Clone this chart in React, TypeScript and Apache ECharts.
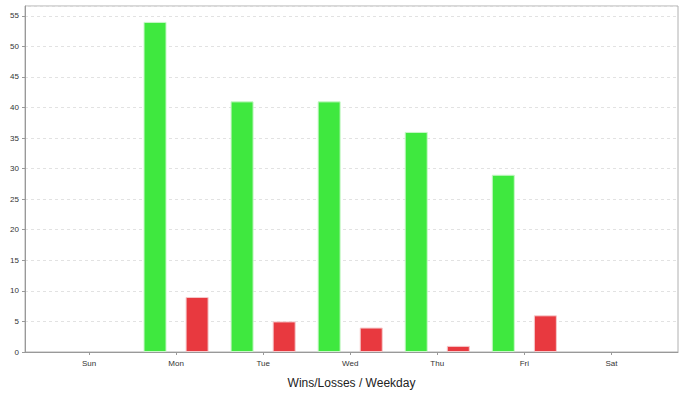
import React, { useEffect, useRef } from "react";
import * as echarts from "echarts";

const days = ["Sun", "Mon", "Tue", "Wed", "Thu", "Fri", "Sat"];
const wins = [null, 54, 41, 41, 36, 29, null];
const losses = [null, 9, 5, 4, 1, 6, null];
const yTicks = [0, 5, 10, 15, 20, 25, 30, 35, 40, 45, 50, 55];
const axisTitle = "Wins/Losses / Weekday";

export default function App() {
  const ref = useRef<HTMLDivElement>(null);
  useEffect(() => {
    if (!ref.current) return;
    const chart = echarts.init(ref.current, null, { renderer: "svg" });
    const idx = days.map((_, i) => i);
    chart.setOption({
      animation: false,
      backgroundColor: "#ffffff",
      grid: {
        left: 25,
        right: 8,
        top: 6,
        bottom: 44,
        show: true,
        borderColor: "#b0b0b0",
        borderWidth: 1,
        backgroundColor: "transparent",
      },
      xAxis: {
        type: "value",
        min: -0.735,
        max: 6.765,
        name: axisTitle,
        nameLocation: "middle",
        nameGap: 25,
        nameTextStyle: { fontSize: 12, color: "#222", fontFamily: "Liberation Sans, Arial, sans-serif" },
        axisLine: { show: true, onZero: false, lineStyle: { color: "#999" } },
        axisTick: { show: true, length: 3, customValues: idx, lineStyle: { color: "#999" } },
        axisLabel: {
          customValues: idx,
          formatter: (v: number) => days[Math.round(v)] ?? "",
          fontSize: 8,
          color: "#333",
          margin: 7,
          fontFamily: "Liberation Sans, Arial, sans-serif",
        },
        splitLine: { show: false },
      },
      yAxis: {
        type: "value",
        min: 0,
        max: 56.6,
        interval: 5,
        axisLine: { show: true, onZero: false, lineStyle: { color: "#999" } },
        axisTick: { show: true, length: 3, lineStyle: { color: "#999" } },
        axisLabel: {
          fontSize: 8,
          color: "#333",
          margin: 6,
          showMaxLabel: false,
          formatter: (v: number) => (yTicks.includes(v) ? String(v) : ""),
          fontFamily: "Liberation Sans, Arial, sans-serif",
        },
        splitLine: { show: true, lineStyle: { color: "#e2e2e2", type: [3, 3] } },
      },
      series: [
        {
          type: "bar",
          name: "Wins",
          data: wins.map((v, i) => [i, v]),
          barWidth: 23,
          barGap: "83%",
          itemStyle: { color: "#3fe83f", borderColor: "#c9f7c9", borderWidth: 1 },
        },
        {
          type: "bar",
          name: "Losses",
          data: losses.map((v, i) => [i, v]),
          barWidth: 23,
          barGap: "83%",
          itemStyle: { color: "#e8393f", borderColor: "#f5c9cb", borderWidth: 1 },
        },
      ],
    });
    return () => chart.dispose();
  }, []);
  return <div ref={ref} style={{ width: 686, height: 396, position: "absolute", left: 0, top: 0 }} />;
}
